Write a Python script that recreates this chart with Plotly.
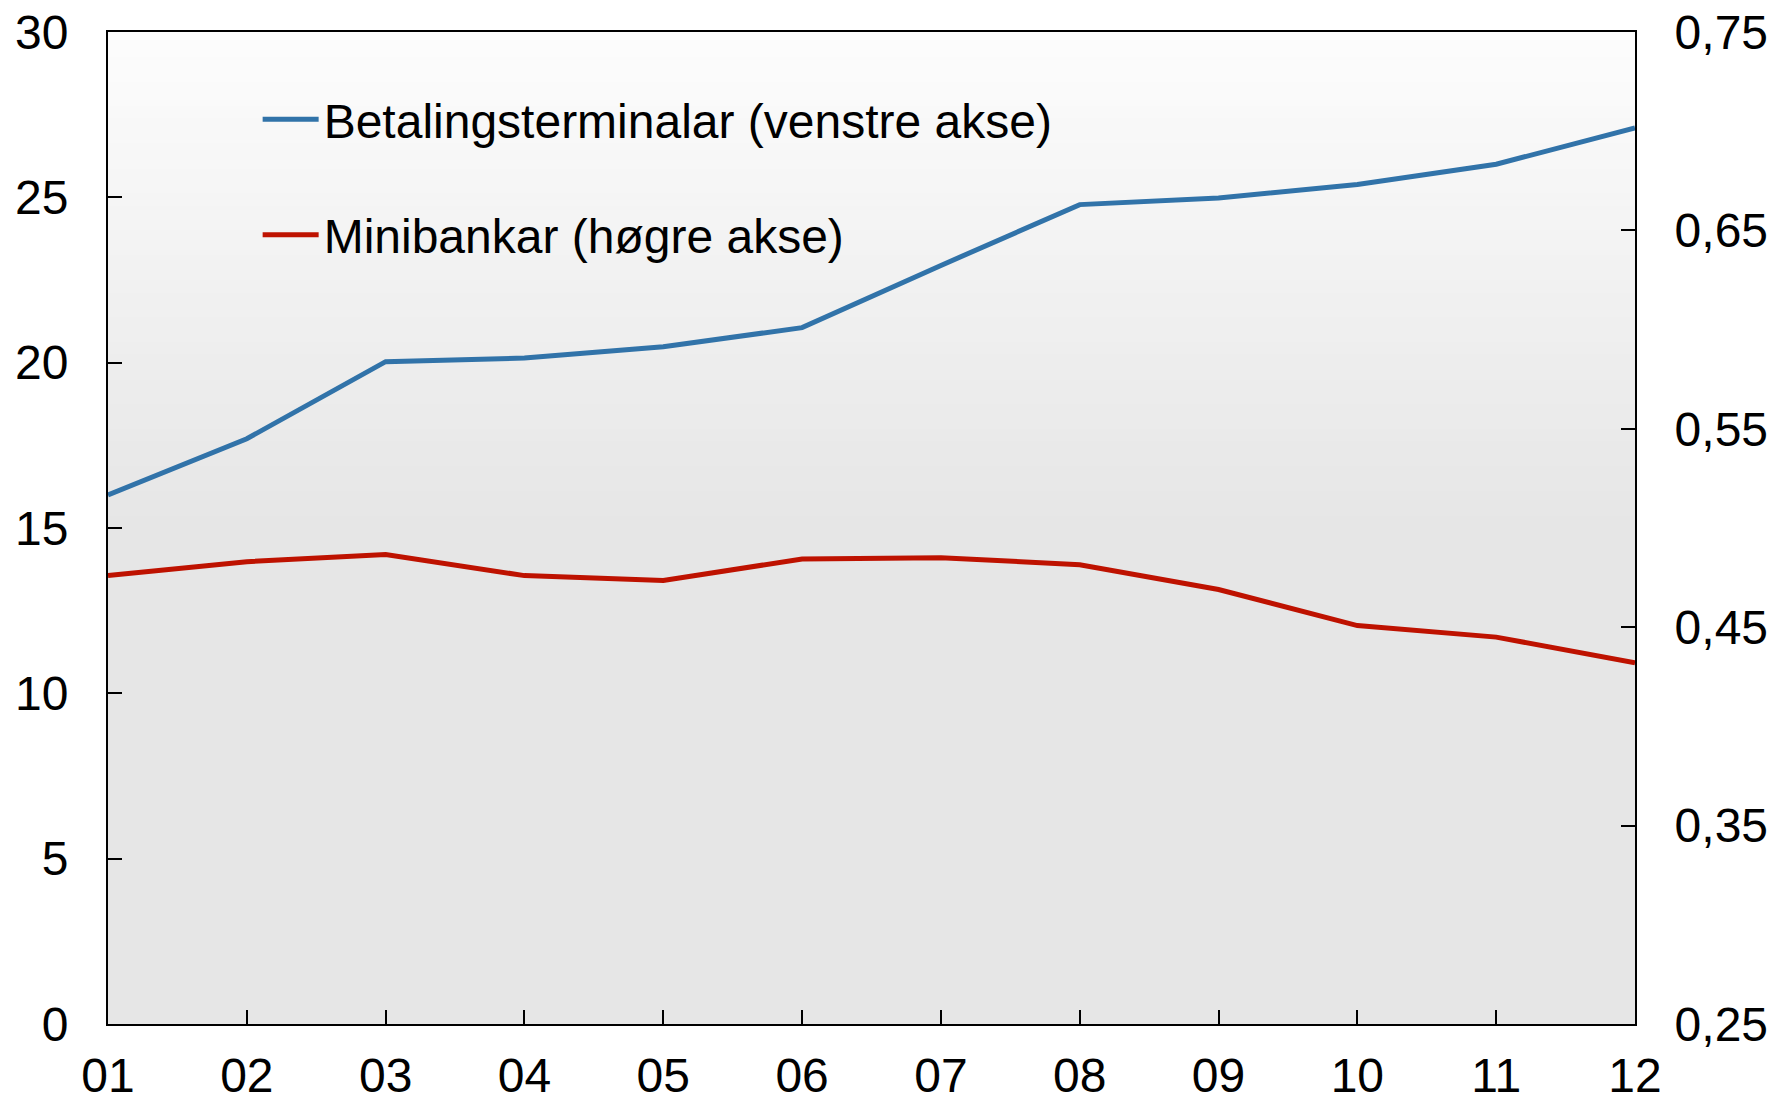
import plotly.graph_objects as go

years = ["01", "02", "03", "04", "05", "06", "07", "08", "09", "10", "11", "12"]
terminals = [16.0, 17.7, 20.03, 20.14, 20.48, 21.06, 22.94, 24.78, 24.98, 25.39, 26.0, 27.1]
atms = [0.476, 0.483, 0.4866, 0.476, 0.4735, 0.4844, 0.485, 0.4815, 0.469, 0.4508, 0.445, 0.432]
left_ticks = [0, 5, 10, 15, 20, 25, 30]
right_ticks = [0.25, 0.35, 0.45, 0.55, 0.65, 0.75]
name_terminals = "Betalingsterminalar (venstre akse)"
name_atms = "Minibankar (høgre akse)"

xs = list(range(1, len(years) + 1))
FONT = "Liberation Sans, Arial, sans-serif"

fig = go.Figure()
fig.add_trace(go.Scatter(x=xs, y=terminals, mode="lines", name=name_terminals,
                         line=dict(color="#3173A9", width=5), legendgroup="a"))
fig.add_trace(go.Scatter(x=xs, y=atms, mode="lines", name=name_atms, yaxis="y2",
                         line=dict(color="#BE1200", width=5), legendgroup="b"))

# background gradient (white at top to grey at middle)
shapes = []
n = 40
for i in range(n):
    t = i / n
    c = int(round(253 - (253 - 230) * (1 - t)))
    shapes.append(dict(type="rect", xref="x domain", yref="y domain",
                       x0=0, x1=1, y0=0.5 + 0.5 * i / n, y1=0.5 + 0.5 * (i + 1) / n + 0.002,
                       fillcolor=f"rgb({c},{c},{c})", line=dict(width=0), layer="below"))

fig.update_layout(
    width=1773, height=1101,
    margin=dict(l=108, r=138, t=32, b=77),
    paper_bgcolor="white", plot_bgcolor="rgb(230,230,230)",
    font=dict(family=FONT, size=48, color="black"),
    separators=",.",
    shapes=shapes,
    showlegend=True,
    legend=dict(x=0.098, y=0.950, xanchor="left", yanchor="top",
                bgcolor="rgba(0,0,0,0)", font=dict(size=48, family=FONT),
                tracegroupgap=50, itemwidth=56),
    xaxis=dict(range=[1, 12], tickvals=xs, ticktext=years, ticks="inside",
               ticklen=14, tickwidth=2, tickcolor="black", showline=True,
               linecolor="black", linewidth=2, mirror=True, showgrid=False,
               zeroline=False, ticklabelstandoff=8, automargin=False),
    yaxis=dict(range=[0, 30], tickvals=left_ticks, ticks="inside", ticklen=14,
               tickwidth=2, tickcolor="black", showline=True, linecolor="black",
               linewidth=2, showgrid=False, zeroline=False, ticklabelstandoff=28,
               automargin=False),
    yaxis2=dict(range=[0.25, 0.75], tickvals=right_ticks, tickformat=".2f",
                overlaying="y", side="right", ticks="inside", ticklen=14,
                tickwidth=2, tickcolor="black", showline=True, linecolor="black",
                linewidth=2, showgrid=False, zeroline=False, ticklabelstandoff=28,
                automargin=False),
)

fig.write_html("out.html", config={"displayModeBar": False},
               post_script="document.body.style.margin='0';")
